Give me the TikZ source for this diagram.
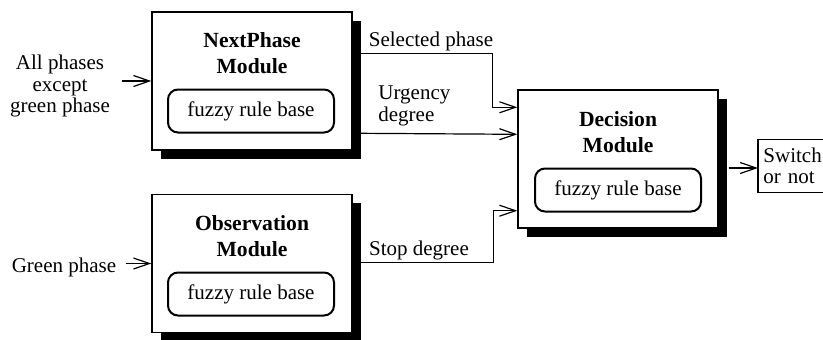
\documentclass[tikz,border=0pt]{standalone}
\usepackage{fontspec}
\setmainfont{Liberation Serif}
\usetikzlibrary{positioning, arrows.meta, calc, shadows}

\begin{document}
\begin{tikzpicture}[
  x=0.5pt, y=-0.5pt,
  font=\fontsize{10.5}{10.5}\selectfont,
  % block styles
  modbox/.style={draw, rectangle, line width=0.7pt, fill=white, minimum width=100pt, minimum height=69pt,
    drop shadow={shadow xshift=4.3pt, shadow yshift=-4.3pt, fill=black, opacity=1}},
  rulebox/.style={draw, rectangle, rounded corners=5pt, line width=1pt, minimum width=83pt, minimum height=21.5pt},
  titletext/.style={align=center, inner sep=0pt, font=\fontsize{10.8}{13}\selectfont\bfseries},
  lbl/.style={align=left, inner sep=0pt, font=\fontsize{10.5}{10.8}\selectfont},
  outbox/.style={rectangle, align=left, text width=50pt, minimum height=26pt, inner sep=2.5pt},
  % arrow styles
  line/.style={draw, line width=0.6pt, -{Straight Barb[length=8pt, width=5.5pt]}},
  wire/.style={draw, line width=0.6pt}
]
  \useasboundingbox (0,0) rectangle (823,339);

  % ==========================================
  % MODULES
  % ==========================================
  \node[modbox] (np) at (252,81) {};
  \node[titletext] (npt) at (252,53) {NextPhase\\Module};
  \node[rulebox] (npr) at (251,111) {fuzzy rule base};

  \node[modbox] (ob) at (252,263.5) {};
  \node[titletext] (obt) at (252,236) {Observation\\Module};
  \node[rulebox] (obr) at (251,294) {fuzzy rule base};

  \node[modbox] (dec) at (618,159) {};
  \node[titletext] (dect) at (618,132) {Decision\\Module};
  \node[rulebox] (decr) at (618,190) {fuzzy rule base};

  % output box, open on the right (cut by the border)
  \node[outbox, anchor=west] (sw) at (758,166) {Switch\\or not};
  \draw[wire] (sw.north east) -- (sw.north west) -- (sw.south west) -- (sw.south east);

  % ==========================================
  % INPUTS
  % ==========================================
  \node[lbl, align=center] (ain) at (60,86) {All phases\\except\\green phase};
  \node[lbl] (gin) at (64,267) {Green phase};

  \draw[line] ($(ain.east |- np.west)+(12,0)$) -- (np.west);
  \draw[line] ($(gin.east |- ob.west)+(9,0)$) -- (ob.west);

  % ==========================================
  % CONNECTIONS TO DECISION
  % ==========================================
  \coordinate (selin) at ($(dec.north west)+(0,18)$);
  \coordinate (urgin) at ($(dec.north west)+(0,45)$);
  \coordinate (stopin) at ($(dec.south west)+(0,-18)$);
  \coordinate (decout) at ($(dec.east)+(10,9)$);

  \draw[line] ($(np.north east)+(8,42)$) -| ($(selin)+(-25,0)$) -- (selin);
  \draw[line] ($(np.north east)+(8,122)$) -- (urgin);
  \draw[line] ($(ob.north east)+(8,69)$) -| ($(stopin)+(-24,0)$) -- (stopin);
  \draw[line] (decout) -- (decout -| sw.west);

  % Labels
  \node[lbl] (sel) at (431,41) {Selected phase};
  \node[lbl, anchor=west] (urg) at (378,106) {Urgency\\degree};
  \node[lbl] (stop) at (419,250) {Stop degree};

\end{tikzpicture}
\end{document}
